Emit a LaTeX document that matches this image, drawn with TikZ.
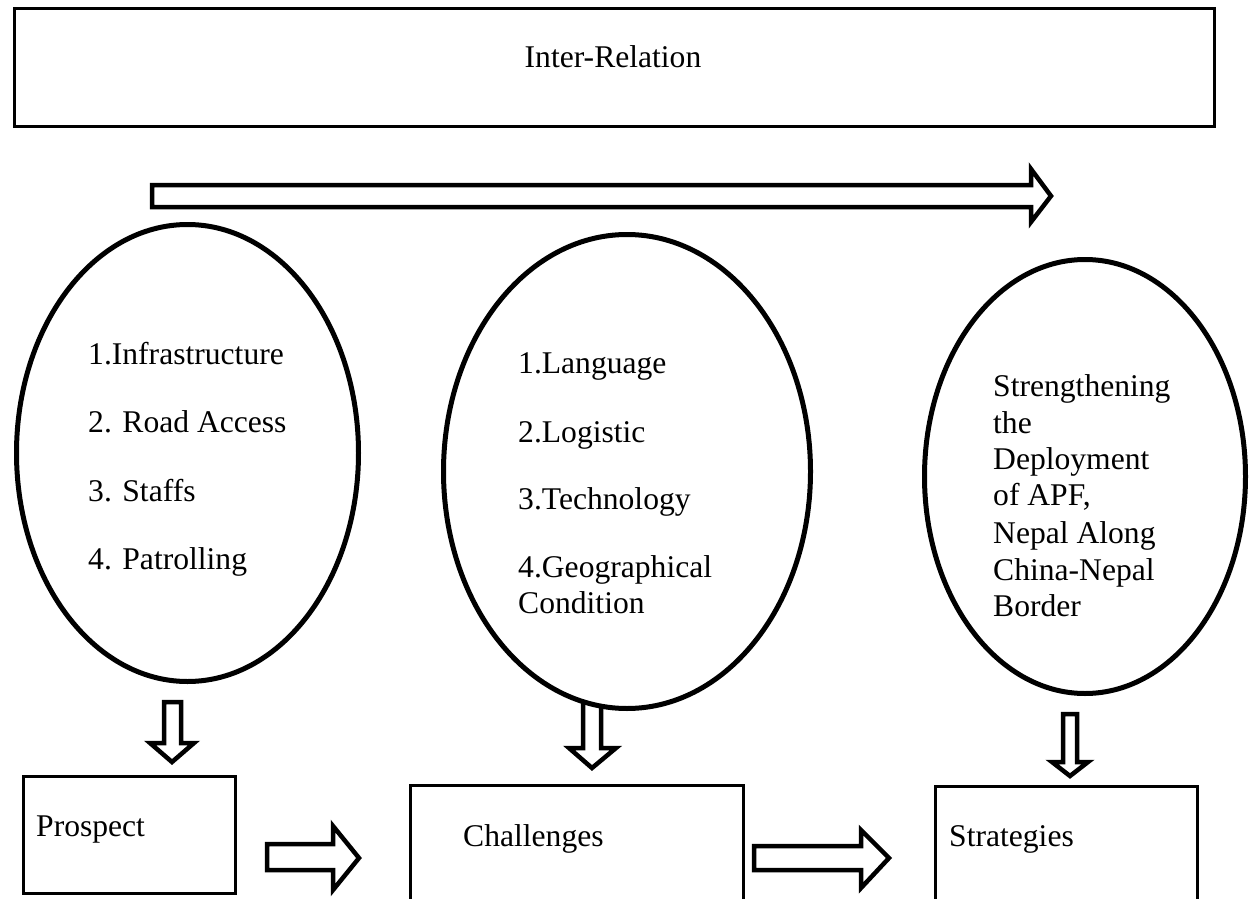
\documentclass[tikz,border=0pt]{standalone}
\usepackage{fontspec}
\setmainfont{Liberation Serif}
\usetikzlibrary{shapes.geometric}
\begin{document}
\begin{tikzpicture}[x=1pt,y=-1pt,
  boxnode/.style={draw=black, line width=3pt, rectangle, inner sep=0pt},
  ellnode/.style={draw=black, fill=white, line width=5pt, ellipse, inner sep=0pt},
  blockarrow/.style={draw=black, fill=white, line width=4.5pt, line join=miter, miter limit=10},
  txt/.style={font=\fontsize{31.6}{36.7}\selectfont, inner sep=0pt, anchor=base west}]
\clip (0,0) rectangle (1253,899);
\fill[white] (0,0) rectangle (1253,899);

% top box
\node[boxnode, minimum width=1200pt, minimum height=118pt] (top) at (614.5,67.5) {};
\node[txt, anchor=base] (toptxt) at (613,68) {Inter-Relation};

% long arrow
\draw[blockarrow] (152,185) -- (1031,185) -- (1031,169) -- (1051,196) -- (1031,222) -- (1031,207) -- (152,207) -- cycle;

% down arrows
\draw[blockarrow] (164,702) -- (181,702) -- (181,743) -- (194,743) -- (172,762) -- (150,743) -- (164,743) -- cycle;
\draw[blockarrow] (583,690) -- (601,690) -- (601,748) -- (616,748) -- (592,768) -- (569,748) -- (583,748) -- cycle;
\draw[blockarrow] (1063,714) -- (1077,714) -- (1077,762) -- (1088,762) -- (1070,776) -- (1052,762) -- (1063,762) -- cycle;

% right arrows
\draw[blockarrow] (267,844) -- (333,844) -- (333,826) -- (359,858) -- (333,890) -- (333,870) -- (267,870) -- cycle;
\draw[blockarrow] (754,846) -- (861,846) -- (861,830) -- (889,858) -- (861,888) -- (861,870) -- (754,870) -- cycle;

% ellipses
\node[ellnode, minimum width=342pt, minimum height=457pt] (e1) at (187.5,453) {};
\node[ellnode, minimum width=367pt, minimum height=474pt] (e2) at (627,471.5) {};
\node[ellnode, minimum width=321pt, minimum height=434pt] (e3) at (1085,476.5) {};

% ellipse texts
\node[txt] (a1) at (88,364) {1.Infrastructure};
\node[txt] (a2) at (88,432) {2. Road Access};
\node[txt] (a3) at (88,501) {3. Staffs};
\node[txt] (a4) at (88,569) {4. Patrolling};

\node[txt] (b1) at (518,373) {1.Language};
\node[txt] (b2) at (518,442) {2.Logistic};
\node[txt] (b3) at (518,509) {3.Technology};
\node[txt] (b4) at (518,577) {4.Geographical};
\node[txt] (b5) at (518,613) {Condition};

\node[txt] (c1) at (993,396) {Strengthening};
\node[txt] (c2) at (993,433) {the};
\node[txt] (c3) at (993,469) {Deployment};
\node[txt] (c4) at (993,505) {of APF,};
\node[txt] (c5) at (993,543) {Nepal Along};
\node[txt] (c6) at (993,580) {China-Nepal};
\node[txt] (c7) at (993,616) {Border};

% bottom boxes
\node[boxnode, minimum width=212pt, minimum height=117pt] (pros) at (129.5,835) {};
\node[boxnode, minimum width=333pt, minimum height=140pt] (chal) at (577,855.5) {};
\node[boxnode, minimum width=262pt, minimum height=140pt] (strat) at (1066.5,856.5) {};
\node[txt] (prostxt) at (36,836) {Prospect};
\node[txt] (chaltxt) at (463,846) {Challenges};
\node[txt] (strattxt) at (949,846) {Strategies};
\end{tikzpicture}
\end{document}
